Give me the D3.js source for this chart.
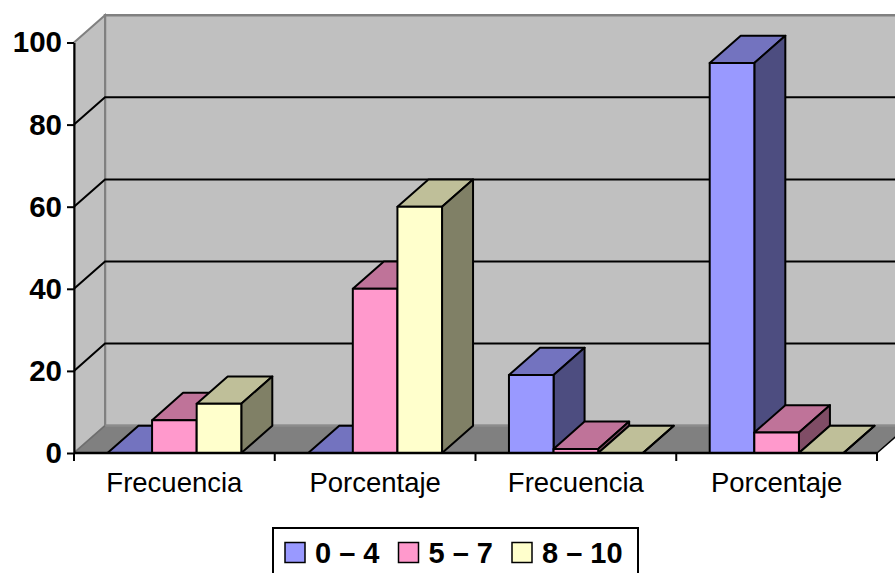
<!DOCTYPE html>
<html>
<head>
<meta charset="utf-8">
<script src="https://cdn.jsdelivr.net/npm/d3@7"></script>
<style>
  html, body { margin: 0; padding: 0; background: #ffffff; }
  svg { display: block; font-family: "Liberation Sans", Arial, sans-serif; }
</style>
</head>
<body>
<svg id="chart" width="895" height="573"></svg>
<script>
// Chart data
const categories = ["Frecuencia", "Porcentaje", "Frecuencia", "Porcentaje"];
const seriesNames = ["0 – 4", "5 – 7", "8 – 10"];
const values0to4 = [0, 0, 19, 95];
const values5to7 = [8, 40, 1, 5];
const values8to10 = [12, 60, 0, 0];
const yTicks = [0, 20, 40, 60, 80, 100];
const seriesColors = ["#9999FF", "#FF99CC", "#FFFFCC"];

const seriesValues = [values0to4, values5to7, values8to10];

const svg = d3.select("#chart");

// Plot geometry (front plane) and 3D depth offset
const plotLeft = 74, plotRight = 877, plotBottom = 453, plotTop = 42.5;
const depthX = 31, depthY = 27.3;

const y = d3.scaleLinear().domain([0, 100]).range([plotBottom, plotTop]);
const x0 = d3.scaleBand().domain(d3.range(categories.length)).range([plotLeft, plotRight]).paddingInner(0).paddingOuter(0);
const x1 = d3.scaleBand().domain(d3.range(seriesNames.length)).range([0, x0.bandwidth()]).paddingInner(0).paddingOuter(0.75);

const poly = pts => "M" + pts.map(p => p.join(",")).join("L") + "Z";
const shade = (c, k) => { const r = d3.rgb(c); return d3.rgb(r.r * k, r.g * k, r.b * k).formatHex(); };

const yMax = y(100), y0 = y(0);

// Back wall
svg.append("path")
  .attr("d", poly([[plotLeft + depthX, yMax - depthY], [plotRight + depthX, yMax - depthY], [plotRight + depthX, y0 - depthY], [plotLeft + depthX, y0 - depthY]]))
  .attr("fill", "#C0C0C0").attr("stroke", "#808080").attr("stroke-width", 2.5);

// Side wall
svg.append("path")
  .attr("d", poly([[plotLeft, yMax], [plotLeft + depthX, yMax - depthY], [plotLeft + depthX, y0 - depthY], [plotLeft, y0]]))
  .attr("fill", "#C0C0C0").attr("stroke", "#808080").attr("stroke-width", 2);

// Gridlines on back and side walls
const gridVals = yTicks.filter(v => v > 0 && v < 100);
svg.append("g").selectAll("path").data(gridVals).join("path")
  .attr("d", v => `M${plotLeft},${y(v)}L${plotLeft + depthX},${y(v) - depthY}L${plotRight + depthX + 5},${y(v) - depthY}`)
  .attr("fill", "none").attr("stroke", "#000").attr("stroke-width", 2);

// Floor
svg.append("path")
  .attr("d", poly([[plotLeft, y0], [plotRight, y0], [plotRight + depthX, y0 - depthY], [plotLeft + depthX, y0 - depthY]]))
  .attr("fill", "#808080").attr("stroke", "none");
svg.append("path")
  .attr("d", `M${plotLeft + depthX},${y0 - depthY}L${plotRight + depthX + 5},${y0 - depthY}`)
  .attr("stroke", "#8C8C8C").attr("stroke-width", 2);
svg.append("path")
  .attr("d", `M${plotLeft},${y0}L${plotLeft + depthX},${y0 - depthY}`)
  .attr("stroke", "#6E6E6E").attr("stroke-width", 1.5);
svg.append("path")
  .attr("d", `M${plotRight},${y0}L${plotRight + depthX},${y0 - depthY}`)
  .attr("stroke", "#000").attr("stroke-width", 1.5);

// Bars (painted left to right so nearer faces cover farther ones)
const bars = svg.append("g");
categories.forEach((cat, ci) => {
  seriesValues.forEach((vals, si) => {
    const xa = x0(ci) + x1(si), xb = xa + x1.bandwidth();
    const yt = y(vals[ci]);
    const col = seriesColors[si];
    const g = bars.append("g").attr("stroke", "#000").attr("stroke-width", 2).attr("stroke-linejoin", "round");
    g.append("path").attr("d", poly([[xa, yt], [xb, yt], [xb + depthX, yt - depthY], [xa + depthX, yt - depthY]])).attr("fill", shade(col, 0.75));
    g.append("path").attr("d", poly([[xb, yt], [xb + depthX, yt - depthY], [xb + depthX, y0 - depthY], [xb, y0]])).attr("fill", shade(col, 0.5));
    g.append("path").attr("d", poly([[xa, yt], [xb, yt], [xb, y0], [xa, y0]])).attr("fill", col);
  });
});

// Y axis
const yAxis = svg.append("g")
  .attr("transform", `translate(${plotLeft},0)`)
  .call(d3.axisLeft(y).tickValues(yTicks).tickSize(7).tickSizeOuter(0).tickPadding(5).tickFormat(d3.format("d")));
yAxis.select(".domain").attr("stroke", "#000").attr("stroke-width", 2);
yAxis.selectAll(".tick line").attr("stroke", "#000").attr("stroke-width", 2);
yAxis.selectAll(".tick text")
  .attr("font-size", 29.5).attr("font-weight", "bold").attr("fill", "#000")
  .attr("font-family", "'Liberation Sans', Arial, sans-serif");

// X axis: front floor edge, category boundary ticks and labels
svg.append("path").attr("d", `M${plotLeft},${y0}L${plotRight},${y0}`).attr("stroke", "#000").attr("stroke-width", 2.5);
const boundaries = d3.range(categories.length + 1).map(i => i < categories.length ? x0(i) : plotRight);
svg.append("g").selectAll("line").data(boundaries).join("line")
  .attr("x1", d => d).attr("x2", d => d).attr("y1", y0).attr("y2", y0 + 8)
  .attr("stroke", "#000").attr("stroke-width", 2);
svg.append("g").selectAll("text").data(categories).join("text")
  .attr("x", (d, i) => x0(i) + x0.bandwidth() / 2)
  .attr("y", 491.5)
  .attr("text-anchor", "middle")
  .attr("font-size", 27.5)
  .attr("fill", "#000")
  .text(d => d);

// Legend
const legend = svg.append("g");
legend.append("rect")
  .attr("x", 273).attr("y", 528).attr("width", 365).attr("height", 60)
  .attr("fill", "#fff").attr("stroke", "#000").attr("stroke-width", 2);
let lx = 285;
seriesNames.forEach((name, i) => {
  legend.append("rect")
    .attr("x", lx).attr("y", 542.5).attr("width", 20).attr("height", 20)
    .attr("fill", seriesColors[i]).attr("stroke", "#000").attr("stroke-width", 1.5);
  const t = legend.append("text")
    .attr("x", lx + 30).attr("y", 563.3)
    .attr("font-size", 29).attr("font-weight", "bold").attr("fill", "#000")
    .text(name);
  lx += 30 + t.node().getComputedTextLength() + 19;
});
</script>
</body>
</html>
